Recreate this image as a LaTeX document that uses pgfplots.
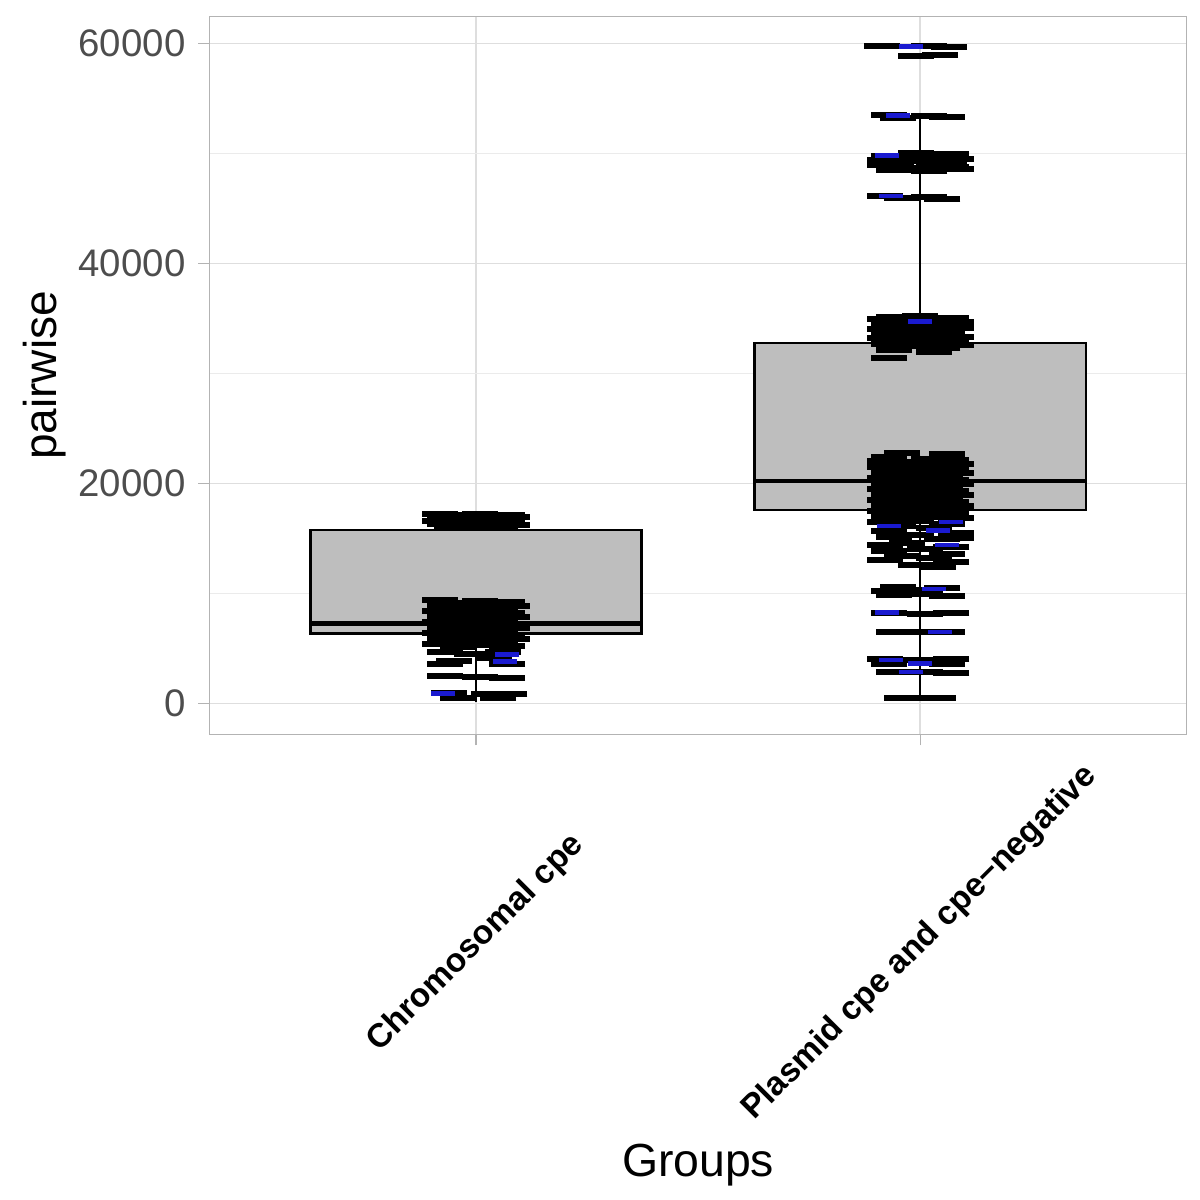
\documentclass[border=0pt]{standalone}
\usepackage{fontspec}
\setmainfont{Liberation Sans}
\usepackage{pgfplots}
\usepackage{pgfplotstable}
\pgfplotsset{compat=1.18}
\definecolor{boxgray}{HTML}{BEBEBE}
\definecolor{gridmaj}{HTML}{DEDEDE}
\definecolor{gridmin}{HTML}{EBEBEB}
\definecolor{framec}{HTML}{B3B3B3}
\definecolor{tickc}{HTML}{4D4D4D}
\definecolor{dotblue}{HTML}{1A1AD0}

\pgfplotstableread{
x y
0.92 17250
1.01 17200
1.07 17150
0.96 17100
1.04 17000
0.93 16950
1.08 16900
0.99 16800
1.055 16750
0.945 16700
0.92 16600
1.01 16550
1.07 16500
0.96 16400
1.04 16350
0.93 16300
1.08 16200
0.99 16150
1.055 16100
0.945 16050
0.92 9400
1.01 9300
1.07 9250
0.96 9100
1.04 9000
0.93 8900
1.08 8800
0.99 8750
1.055 8600
0.945 8500
0.92 8400
1.01 8300
1.07 8200
0.96 8100
1.04 8000
0.93 7900
1.08 7800
0.99 7700
1.055 7600
0.945 7500
0.92 7400
1.01 7300
1.07 7200
0.96 7100
1.04 7000
0.93 6900
1.08 6800
0.99 6700
1.055 6600
0.945 6500
0.92 6400
1.01 6300
1.07 6200
0.96 6100
1.04 6000
0.93 5900
1.08 5800
0.99 5700
1.055 5600
0.945 5500
0.92 5400
1.01 5300
1.07 5200
0.96 5100
0.93 4700
1.06 4650
0.99 4450
1.04 4100
0.95 3800
0.93 3600
1.07 3550
0.93 2450
1.01 2400
1.07 2300
0.94 900
1.03 850
1.075 800
0.96 500
1.05 450
}\chromo

\pgfplotstableread{
x y
0.925 900
1.07 4450
1.065 3800
}\chromoblue

\pgfplotstableread{
x y
1.915 59750
2.02 59750
2.065 59650
2.045 58900
1.99 58850
1.93 53450
2.02 53400
1.95 53250
2.06 53300
1.99 50000
2.07 49900
1.93 49800
2.04 49700
1.96 49600
2.08 49500
1.92 49400
2.01 49300
2.065 49200
1.945 49100
2.03 49000
1.92 48900
2.07 48800
1.99 48700
2.08 48600
1.94 48500
2.02 48400
1.92 46100
2.02 46050
1.96 45900
2.05 45850
2.0 35200
1.94 35100
2.07 35000
1.92 34900
2.03 34800
2.08 34700
1.96 34600
2.04 34500
1.93 34400
2.07 34300
1.99 34200
2.08 34100
1.92 34000
2.02 33900
1.96 33800
2.06 33700
1.93 33600
2.04 33500
1.99 33400
2.08 33300
1.92 33200
2.01 33100
2.07 33000
1.95 32900
2.04 32800
1.93 32700
2.08 32600
1.99 32500
2.05 32300
1.94 32100
2.03 31900
1.93 31400
1.96 22800
2.06 22700
1.93 22400
2.02 22200
2.07 22100
1.92 22000
1.99 21900
2.08 21800
1.95 21700
2.04 21600
1.92 21500
2.01 21400
2.07 21300
1.96 21200
2.04 21100
1.93 21000
2.08 20900
1.99 20800
2.055 20700
1.945 20600
1.92 20500
2.01 20400
2.07 20300
1.96 20200
2.04 20100
1.93 20000
2.08 19900
1.99 19800
2.055 19700
1.945 19600
1.92 19500
2.01 19400
2.07 19300
1.96 19200
2.04 19100
1.93 19000
2.08 18900
1.99 18800
2.055 18700
1.945 18600
1.92 18500
2.01 18400
2.07 18300
1.96 18200
2.04 18100
1.93 18000
2.08 17900
1.99 17800
2.055 17700
1.945 17600
1.92 17500
2.01 17400
2.07 17300
1.96 17200
2.04 17100
1.93 17000
2.08 16800
2.0 16900
1.99 16600
1.92 16500
2.06 16300
1.95 16100
2.03 15900
1.93 15700
2.08 15500
1.99 15300
1.94 15100
2.05 14900
2.08 15000
1.97 14600
1.92 14400
2.07 14200
2.01 14000
1.93 13800
2.06 13600
1.96 13400
2.03 13200
1.92 13000
2.07 12800
1.99 12600
2.04 12400
1.95 10600
2.05 10500
2.01 10300
1.93 10200
1.94 9800
2.06 9750
2.0 9900
1.93 8200
2.01 8150
2.07 8200
1.94 6500
2.02 6450
2.06 6500
1.92 4000
2.0 3950
2.07 4050
1.93 3600
2.06 3550
1.94 2800
2.01 2850
2.07 2750
1.96 450
2.04 450
}\plasmid

\pgfplotstableread{
x y
1.98 59700
1.95 53450
1.925 49800
1.935 46100
2.0 34700
2.07 16500
1.93 16100
2.04 15700
2.06 14400
2.03 10400
1.925 8250
2.045 6500
1.935 3950
2.0 3600
1.98 2850
}\plasmidblue

\begin{document}
\begin{tikzpicture}
\begin{axis}[
  scale only axis,
  width=488.6pt, height=358.8pt,
  xmin=0.4, xmax=2.6, ymin=-2820, ymax=62420,
  xtick={1,2},
  xticklabels={Chromosomal cpe, Plasmid cpe and cpe−negative},
  ytick={0,20000,40000,60000},
  minor ytick={10000,30000,50000},
  scaled y ticks=false,
  /pgf/number format/1000 sep={},
  /pgf/number format/assume math mode=true,
  grid=both,
  major grid style={color=gridmaj, line width=0.7pt},
  minor grid style={color=gridmin, line width=0.45pt},
  axis line style={color=framec, line width=0.7pt},
  tick align=outside,
  tick pos=left,
  major tick length=5.5pt,
  minor tick length=0pt,
  tick style={color=framec, line width=0.6pt},
  yticklabel style={font=\fontsize{19.2}{22}\selectfont, color=tickc, xshift=-3pt},
  xticklabel style={font=\fontsize{16.7}{19}\selectfont\bfseries, color=black, anchor=center, rotate=45},
  xticklabel shift=99pt,
  xlabel={Groups},
  ylabel={pairwise},
  xlabel style={font=\fontsize{23.2}{27}\selectfont, at={(axis description cs:0.5,-0.601)}, anchor=center},
  ylabel style={font=\fontsize{23}{27}\selectfont, at={(axis description cs:-0.169,0.5)}, anchor=center},
  clip=false,
]
\coordinate (sw) at (rel axis cs:0,0);
\coordinate (ne) at (rel axis cs:1,1);
% whiskers
\addplot[black, line width=1.3pt] coordinates {(1,150) (1,17250)};
\addplot[black, line width=1.3pt] coordinates {(2,450) (2,53300)};
% boxes
\addplot[draw=black, fill=boxgray, line width=1.3pt] coordinates {(0.627,6360) (1.373,6360) (1.373,15750) (0.627,15750)} -- cycle;
\addplot[draw=black, fill=boxgray, line width=1.3pt] coordinates {(1.627,17570) (2.373,17570) (2.373,32750) (1.627,32750)} -- cycle;
% medians
\addplot[black, line width=2.4pt] coordinates {(0.627,7270) (1.373,7270)};
\addplot[black, line width=2.4pt] coordinates {(1.627,20200) (2.373,20200)};
% jittered points
\addplot[only marks, mark=-, mark size=9pt, mark options={line width=3pt, draw=black}] table[x=x,y=y] {\chromo};
\addplot[only marks, mark=-, mark size=9pt, mark options={line width=3pt, draw=black}] table[x=x,y=y] {\plasmid};
\addplot[only marks, mark=-, mark size=6pt, mark options={line width=2.2pt, draw=dotblue}] table[x=x,y=y] {\chromoblue};
\addplot[only marks, mark=-, mark size=6pt, mark options={line width=2.2pt, draw=dotblue}] table[x=x,y=y] {\plasmidblue};
% whiskers over points
\addplot[black, line width=1.3pt] coordinates {(1,150) (1,6360)};
\addplot[black, line width=1.3pt] coordinates {(2,450) (2,17570)};
\addplot[black, line width=1.3pt] coordinates {(2,32750) (2,53300)};
\end{axis}
\pgfresetboundingbox
\path[use as bounding box] ([shift={(-104.75pt,-232.85pt)}]sw) rectangle ([shift={(6.65pt,8.35pt)}]ne);
\end{tikzpicture}
\end{document}
